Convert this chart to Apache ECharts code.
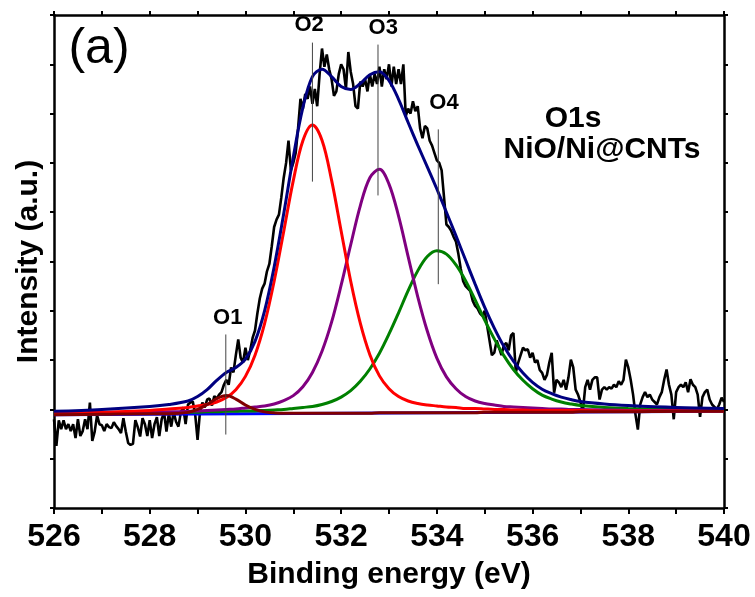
<!DOCTYPE html>
<html>
<head>
<meta charset="utf-8">
<script src="https://cdn.jsdelivr.net/npm/echarts@6/dist/echarts.min.js"></script>
<style>
  html, body { margin: 0; padding: 0; background: #fff; }
  #chart { width: 755px; height: 597px; }
</style>
</head>
<body>
<div id="chart"></div>
<script>
// ---- Measured spectrum (O1s, NiO/Ni@CNTs), regular energy grid ----
const energyStart = 526.0;
const energyStep = 0.05;
const measuredCounts = [
  -0.20,-0.74,-0.22,-0.40,-0.22,-0.40,-0.30,-0.44,-0.30,-0.58,-0.20,-0.54,-0.44,-0.20,-0.40,0.14,-0.64,-0.45,-0.12,-0.30,
  -0.32,-0.44,-0.30,-0.36,-0.38,-0.26,-0.34,-0.40,-0.48,-0.18,-0.45,-0.68,-0.72,-0.70,-0.22,-0.36,-0.55,-0.18,-0.30,-0.54,
  -0.22,-0.58,-0.30,-0.16,-0.54,-0.20,-0.06,-0.45,-0.08,-0.35,-0.05,-0.25,-0.35,-0.06,0.04,-0.30,0.10,0.14,0.16,-0.10,
  -0.62,-0.05,0.14,0.04,0.20,0.22,0.08,0.27,0.22,0.30,0.35,0.50,0.60,0.50,0.85,0.75,1.10,1.42,1.05,0.95,
  1.25,1.00,1.20,1.45,1.60,1.95,2.25,2.45,2.55,2.80,2.95,3.31,3.70,3.85,3.95,4.30,4.70,5.00,5.45,4.85,
  5.00,5.20,5.70,6.30,6.10,6.40,6.30,6.55,6.20,6.50,6.15,6.80,7.32,6.95,7.20,6.90,6.70,6.36,6.45,6.80,
  7.00,6.90,6.50,7.25,6.85,6.60,6.15,6.10,6.65,6.55,6.70,6.45,6.80,6.55,6.80,6.60,6.95,6.55,6.90,6.70,
  7.00,6.55,6.95,6.60,6.90,6.60,7.00,5.95,6.10,6.00,6.25,6.05,6.15,5.70,5.50,5.75,5.70,5.45,5.35,5.20,
  5.05,5.00,4.85,4.30,3.75,3.70,3.62,3.50,3.40,3.15,2.85,2.60,2.50,2.45,2.40,2.20,2.10,2.05,1.95,1.90,
  2.00,1.70,1.40,1.10,1.15,1.40,1.25,1.10,1.30,1.35,1.20,1.50,1.55,0.75,0.95,1.10,1.25,1.20,1.22,1.05,
  1.15,0.95,1.00,0.80,0.74,0.60,0.70,0.95,1.15,0.34,0.60,0.55,0.45,0.60,0.40,0.65,1.01,0.85,0.40,0.30,
  0.15,-0.05,0.45,0.60,0.40,0.60,0.65,0.65,0.20,0.40,0.45,0.40,0.45,0.42,0.50,0.45,0.57,0.50,0.60,1.01,
  0.85,0.60,0.30,-0.10,-0.41,0.10,0.25,0.35,0.25,0.30,0.20,0.15,0.10,0.25,0.35,0.60,0.81,0.50,0.30,-0.20,
  0.35,0.45,0.50,0.45,0.55,0.35,0.61,0.50,0.45,0.30,-0.15,0.25,0.35,0.40,0.20,0.10,0.05,0.00,0.10,0.24,
  0.15
];

// ---- Fitted components ----
const fitEnergy = [526,527,528,528.4,528.8,529.0,529.2,529.4,529.6,529.8,
  530.0,530.2,530.4,530.6,530.8,531.0,531.2,531.4,531.6,531.8,
  532.0,532.2,532.4,532.6,532.8,533.0,533.2,533.4,533.6,533.8,
  534.0,534.2,534.4,534.6,534.8,535.0,535.2,535.4,535.6,535.8,
  536.0,536.2,536.4,536.6,536.8,537.0,537.5,538,539,540];
const peakO1 = [-0.11,-0.10,-0.09,-0.09,-0.06,0.00,0.10,0.22,0.28,0.21,
  0.09,0.00,-0.05,-0.07,-0.08,-0.08,-0.08,-0.08,-0.08,-0.08,
  -0.08,-0.08,-0.08,-0.08,-0.07,-0.07,-0.07,-0.07,-0.07,-0.07,
  -0.07,-0.07,-0.07,-0.07,-0.07,-0.06,-0.06,-0.06,-0.06,-0.06,
  -0.06,-0.06,-0.06,-0.06,-0.06,-0.05,-0.05,-0.05,-0.04,-0.04];
const peakO2 = [-0.08,-0.06,-0.02,0.01,0.04,0.07,0.10,0.15,0.24,0.40,
  0.67,1.10,1.74,2.60,3.61,4.64,5.45,5.77,5.46,4.65,
  3.62,2.60,1.75,1.11,0.68,0.42,0.26,0.17,0.12,0.09,
  0.07,0.05,0.04,0.02,0.02,0.01,0.00,0.00,-0.01,-0.01,
  -0.02,-0.02,-0.02,-0.02,-0.02,-0.02,-0.03,-0.03,-0.03,-0.03];
const peakO3 = [-0.09,-0.08,-0.06,-0.05,-0.04,-0.03,-0.02,-0.01,0.00,0.01,
  0.03,0.05,0.07,0.11,0.18,0.28,0.46,0.75,1.18,1.77,
  2.52,3.34,4.13,4.70,4.87,4.57,3.92,3.10,2.29,1.59,
  1.04,0.66,0.42,0.26,0.17,0.12,0.09,0.06,0.05,0.04,
  0.03,0.02,0.01,0.01,0.00,0.00,-0.01,-0.02,-0.02,-0.02];
const peakO4 = [-0.10,-0.09,-0.07,-0.07,-0.06,-0.06,-0.05,-0.05,-0.04,-0.04,
  -0.03,-0.03,-0.02,-0.01,0.00,0.02,0.04,0.06,0.10,0.16,
  0.25,0.38,0.57,0.82,1.14,1.53,1.96,2.41,2.81,3.10,
  3.22,3.15,2.93,2.61,2.22,1.81,1.43,1.09,0.81,0.59,
  0.42,0.29,0.21,0.15,0.11,0.08,0.04,0.02,0.00,-0.01];
const envelope = [-0.04,0.00,0.06,0.10,0.17,0.26,0.40,0.59,0.75,0.85,
  1.02,1.38,2.00,2.89,3.97,5.12,6.12,6.75,6.90,6.75,
  6.55,6.49,6.61,6.79,6.85,6.67,6.29,5.82,5.36,4.92,
  4.47,4.00,3.52,3.03,2.54,2.07,1.65,1.28,0.98,0.74,
  0.55,0.41,0.32,0.25,0.20,0.16,0.11,0.08,0.04,0.02];
const baselineEnergy = [526, 540];
const baselineValues = [-0.11, -0.04];

// ---- Peak markers and labels ----
const peakNames = ['O1', 'O2', 'O3', 'O4'];
const peakCenters = [529.59, 531.40, 532.77, 534.03];
const markerTop = [1.52, 7.44, 7.40, 5.68];
const markerBottom = [-0.51, 4.62, 4.34, 2.54];
const labelEnergy = [529.63, 531.33, 532.88, 534.15];
const labelLevel = [1.85, 7.79, 7.73, 6.22];

// ---- Axis settings ----
const xMin = 526, xMax = 540, xInterval = 2;
const yMin = -2, yMax = 8, yInterval = 1;

const FONT = 'Arial, "Liberation Sans", Helvetica, sans-serif';

const pairs = (xs, ys) => xs.map((x, i) => [x, ys[i]]);
const measuredData = measuredCounts.map((v, i) => [+(energyStart + i * energyStep).toFixed(2), v]);

const axisLineStyle = { color: '#000', width: 2.5 };
const tickStyle = { color: '#000', width: 2 };

function fitSeries(name, xs, ys, color, z) {
  return {
    name, type: 'line', data: pairs(xs, ys), showSymbol: false, symbol: 'none',
    smooth: 0.35, lineStyle: { color, width: 3 }, z, silent: true,
    xAxisIndex: 0, yAxisIndex: 0
  };
}

const markerSeries = peakNames.map((n, i) => ({
  name: 'marker-' + n, type: 'line', symbol: 'none', silent: true, z: 20,
  data: [[peakCenters[i], markerBottom[i]], [peakCenters[i], markerTop[i]]],
  lineStyle: { color: '#444', width: 1 }
}));

const option = {
  animation: false,
  backgroundColor: '#fff',
  textStyle: { fontFamily: FONT },
  grid: { left: 54, right: 31, top: 15, bottom: 89, containLabel: false },
  xAxis: [
    {
      type: 'value', min: xMin, max: xMax, interval: xInterval, position: 'bottom',
      axisLine: { show: true, onZero: false, lineStyle: axisLineStyle },
      axisTick: { show: true, inside: false, length: 6, lineStyle: tickStyle },
      minorTick: { show: true, splitNumber: 2, length: 6, lineStyle: tickStyle },
      splitLine: { show: false }, minorSplitLine: { show: false },
      axisLabel: { color: '#000', fontSize: 32, fontWeight: 'bold', fontFamily: FONT, margin: 13 },
      name: 'Binding energy (eV)', nameLocation: 'middle', nameGap: 52,
      nameTextStyle: { color: '#000', fontSize: 30, fontWeight: 'bold', fontFamily: FONT }
    },
    {
      type: 'value', min: xMin, max: xMax, interval: xInterval, position: 'top',
      axisLine: { show: true, onZero: false, lineStyle: axisLineStyle },
      axisTick: { show: true, inside: false, length: 4, lineStyle: tickStyle },
      minorTick: { show: true, splitNumber: 2, length: 4, lineStyle: tickStyle },
      splitLine: { show: false }, axisLabel: { show: false }
    }
  ],
  yAxis: [
    {
      type: 'value', min: yMin, max: yMax, interval: yInterval, position: 'left',
      axisLine: { show: true, onZero: false, lineStyle: axisLineStyle },
      axisTick: { show: true, inside: false, length: 4, lineStyle: tickStyle },
      splitLine: { show: false }, axisLabel: { show: false },
      name: 'Intensity (a.u.)', nameLocation: 'middle', nameGap: 10, nameRotate: 90,
      nameTextStyle: { color: '#000', fontSize: 30, fontWeight: 'bold', fontFamily: FONT }
    },
    {
      type: 'value', min: yMin, max: yMax, interval: yInterval, position: 'right',
      axisLine: { show: true, onZero: false, lineStyle: axisLineStyle },
      axisTick: { show: true, inside: false, length: 4, lineStyle: tickStyle },
      splitLine: { show: false }, axisLabel: { show: false }
    }
  ],
  graphic: [
    { type: 'text', x: 99, y: 49, silent: true,
      style: { text: '(a)', fontSize: 50, fontWeight: 'normal', fontFamily: FONT, fill: '#000',
               textAlign: 'center', textVerticalAlign: 'middle', align: 'center', verticalAlign: 'middle' } },
    { type: 'text', x: 573, y: 119, silent: true,
      style: { text: 'O1s', fontSize: 30, fontWeight: 'bold', fontFamily: FONT, fill: '#000',
               textAlign: 'center', textVerticalAlign: 'middle', align: 'center', verticalAlign: 'middle' } },
    { type: 'text', x: 602, y: 150, silent: true,
      style: { text: 'NiO/Ni@CNTs', fontSize: 30, fontWeight: 'bold', fontFamily: FONT, fill: '#000',
               textAlign: 'center', textVerticalAlign: 'middle', align: 'center', verticalAlign: 'middle' } }
  ],
  series: [
    {
      name: 'Measured', type: 'line', data: measuredData, showSymbol: false, symbol: 'none',
      lineStyle: { color: '#000', width: 2.6 }, z: 2, silent: true
    },
    {
      name: 'Baseline', type: 'line', data: pairs(baselineEnergy, baselineValues), symbol: 'none',
      lineStyle: { color: '#0000ff', width: 3 }, z: 3, silent: true
    },
    fitSeries('O4', fitEnergy, peakO4, '#008000', 4),
    fitSeries('O3', fitEnergy, peakO3, '#800080', 5),
    fitSeries('O2', fitEnergy, peakO2, '#ff0000', 6),
    fitSeries('O1', fitEnergy, peakO1, '#800000', 7),
    fitSeries('Envelope', fitEnergy, envelope, '#000080', 8),
    ...markerSeries,
    {
      name: 'labels', type: 'scatter', symbol: 'circle', symbolSize: 1, silent: true, z: 30,
      itemStyle: { color: 'rgba(0,0,0,0)' },
      data: peakNames.map((n, i) => ({ value: [labelEnergy[i], labelLevel[i]], name: n })),
      label: { show: true, position: 'inside', formatter: p => p.name, opacity: 1,
               color: '#000', textBorderWidth: 0, fontSize: 22, fontWeight: 'bold', fontFamily: FONT }
    }
  ]
};

const chart = echarts.init(document.getElementById('chart'), null, { renderer: 'canvas' });
chart.setOption(option);
</script>
</body>
</html>
